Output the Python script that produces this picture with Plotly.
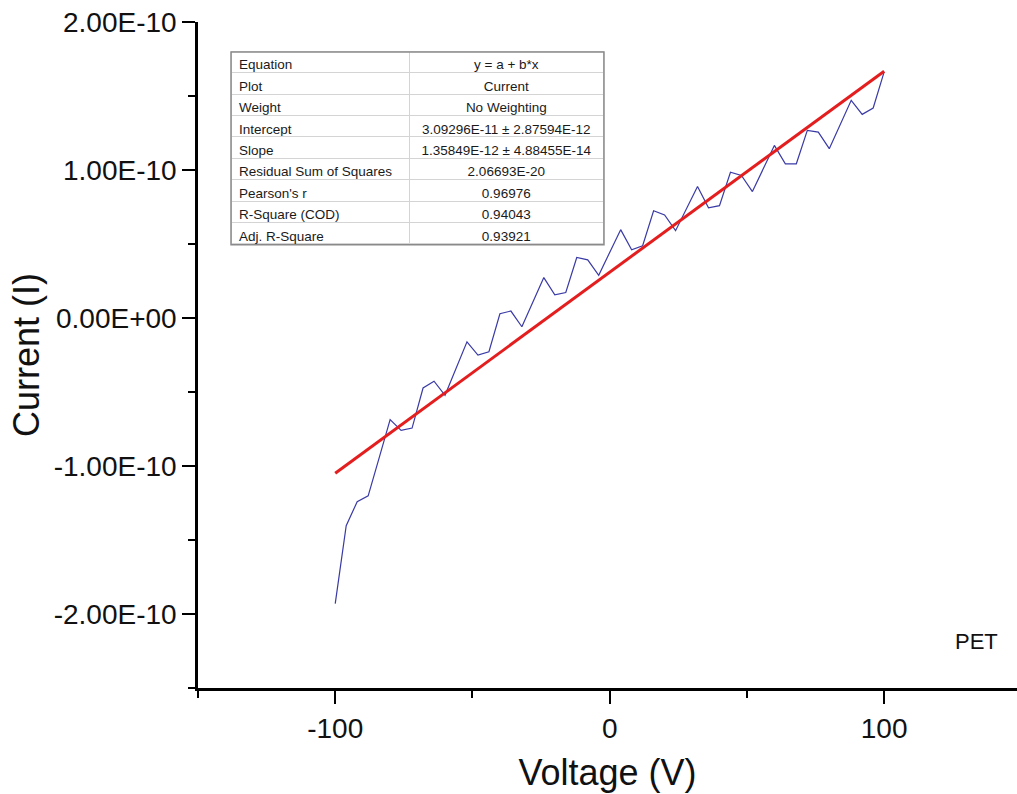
import plotly.graph_objects as go

# Measured I-V sweep of the PET sample
voltage = [-100, -96, -92, -88, -84, -80, -76, -72, -68, -64, -60, -56, -52,
           -48, -44, -40, -36, -32, -28, -24, -20, -16, -12, -8, -4, 0,
           4, 8, 12, 16, 20, 24, 28, 32, 36, 40, 44, 48, 52, 56, 60,
           64, 68, 72, 76, 80, 84, 88, 92, 96, 100]
current = [-1.930e-10, -1.403e-10, -1.241e-10, -1.202e-10, -0.945e-10, -0.687e-10,
           -0.759e-10, -0.744e-10, -0.473e-10, -0.427e-10, -0.522e-10, -0.340e-10,
           -0.161e-10, -0.251e-10, -0.228e-10, 0.029e-10, 0.047e-10, -0.059e-10,
           0.107e-10, 0.273e-10, 0.156e-10, 0.172e-10, 0.409e-10, 0.393e-10,
           0.289e-10, 0.443e-10, 0.597e-10, 0.461e-10, 0.488e-10, 0.725e-10,
           0.696e-10, 0.590e-10, 0.739e-10, 0.888e-10, 0.744e-10, 0.759e-10,
           0.985e-10, 0.963e-10, 0.854e-10, 1.010e-10, 1.166e-10, 1.042e-10,
           1.042e-10, 1.268e-10, 1.256e-10, 1.144e-10, 1.310e-10, 1.471e-10,
           1.376e-10, 1.419e-10, 1.663e-10]

# Linear fit results (y = a + b*x)
intercept = 3.09296e-11
slope = 1.35849e-12
fit_x = [-100, 100]

table_labels = ["Equation", "Plot", "Weight", "Intercept", "Slope",
                "Residual Sum of Squares", "Pearson's r", "R-Square (COD)",
                "Adj. R-Square"]
table_values = ["y = a + b*x", "Current", "No Weighting",
                "3.09296E-11 \u00b1 2.87594E-12", "1.35849E-12 \u00b1 4.88455E-14",
                "2.06693E-20", "0.96976", "0.94043", "0.93921"]

y_tickvals = [2e-10, 1e-10, 0, -1e-10, -2e-10]
y_ticktext = ["2.00E-10", "1.00E-10", "0.00E+00", "-1.00E-10", "-2.00E-10"]
x_tickvals = [-100, 0, 100]
x_ticktext = ["-100", "0", "100"]

fit_y = [intercept + slope * v for v in fit_x]

fig = go.Figure()
fig.add_trace(go.Scatter(x=voltage, y=current, mode="lines",
                         line=dict(color="#3a3aa6", width=1.2),
                         showlegend=False))
fig.add_trace(go.Scatter(x=fit_x, y=fit_y, mode="lines",
                         line=dict(color="#e41e1e", width=3),
                         showlegend=False))

fig.add_trace(go.Table(
    domain=dict(x=[0.0403, 0.4957], y=[0.662, 0.956]),
    columnwidth=[179, 194],
    header=dict(values=[table_labels[0], table_values[0]],
                align=["left", "center"], height=21.4,
                fill_color="white", line_color="#d4d4d4",
                font=dict(family="Liberation Sans, Arial", size=13.5, color="#1a1a1a")),
    cells=dict(values=[table_labels[1:], table_values[1:]],
               align=["left", "center"], height=21.4,
               fill_color="white", line_color="#d4d4d4",
               font=dict(family="Liberation Sans, Arial", size=13.5, color="#1a1a1a")),
))

fig.add_shape(type="rect", xref="paper", yref="paper",
              x0=0.0403, x1=0.4957, y0=0.6655, y1=0.955,
              line=dict(color="#8a8a8a", width=1.5), layer="above")

fig.add_annotation(text="PET", x=0.95, y=0.07, xref="paper", yref="paper",
                   showarrow=False, xanchor="center", yanchor="middle",
                   font=dict(family="Liberation Sans, Arial", size=22, color="#111"))

tick_font = dict(family="Liberation Sans, Arial", size=28, color="#111")
title_font = dict(family="Liberation Sans, Arial", size=36, color="#111")

fig.update_xaxes(range=[-150, 148.4], tickvals=x_tickvals, ticktext=x_ticktext,
                 ticks="outside", ticklen=13, tickwidth=2, tickcolor="black",
                 showline=True, linecolor="black", linewidth=3,
                 showgrid=False, zeroline=False, tickfont=tick_font,
                 minor=dict(tickvals=[-150, -50, 50], ticks="outside", ticklen=7,
                            tickwidth=2, tickcolor="black", showgrid=False),
                 title=dict(text="Voltage (V)", font=title_font, standoff=18))
fig.update_yaxes(range=[-2.5e-10, 2.0e-10], tickvals=y_tickvals, ticktext=y_ticktext,
                 ticks="outside", ticklen=13, tickwidth=2, tickcolor="black",
                 showline=True, linecolor="black", linewidth=2.5,
                 showgrid=False, zeroline=False, tickfont=tick_font,
                 minor=dict(tickvals=[1.5e-10, 0.5e-10, -0.5e-10, -1.5e-10, -2.5e-10],
                            ticks="outside", ticklen=7, tickwidth=2,
                            tickcolor="black", showgrid=False),
                 title=dict(text="Current (I)", font=title_font, standoff=4))

fig.update_layout(width=1017, height=794,
                  margin=dict(l=198, r=0, t=22, b=106, autoexpand=False),
                  paper_bgcolor="white", plot_bgcolor="white")

fig.write_html("out.html")
